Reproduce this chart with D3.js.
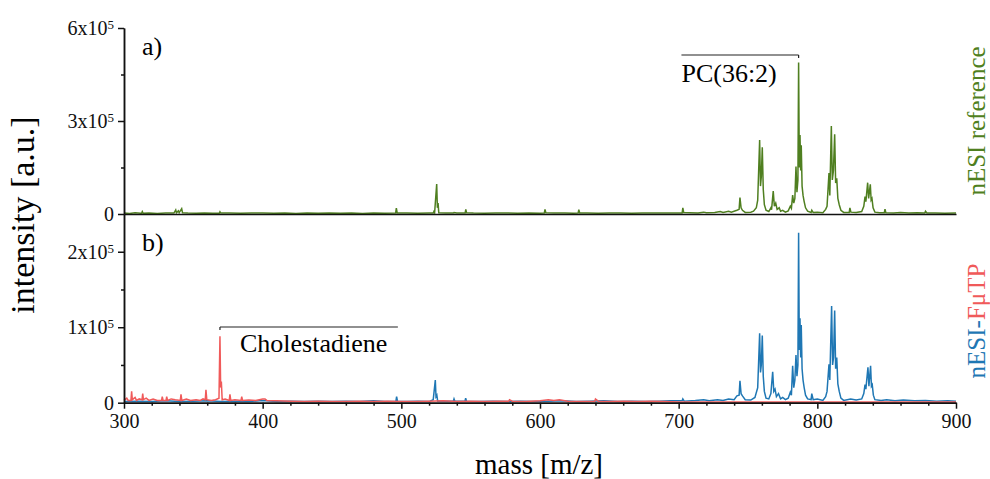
<!DOCTYPE html>
<html>
<head>
<meta charset="utf-8">
<script src="https://cdn.jsdelivr.net/npm/d3@7"></script>
<style>
  body { margin: 0; background: #fff; }
  text { font-family: "Liberation Serif", "DejaVu Serif", serif; }
</style>
</head>
<body>
<div id="chart"></div>
<script>
// spectra: [m/z, intensity]
var refSpectrum = [
  [300,3000],[304,2000],[308,4000],[312,2500],[312.7,2500],[313.2,8000],[313.8,2500],[318,3000],[324,2000],[330,3500],[336,3000],
  [337.3,13000],[337.8,4000],[339.2,10000],[339.8,4000],[341.6,17000],[342.2,4000],[346,3000],[352,2500],[358,3500],[364,2500],
  [368.7,2500],[369.2,7000],[369.8,3000],[376,3000],[384,2500],[392,3500],[400,3000],[408,2500],[416,3000],[424,2000],[432,3000],
  [440,2500],[448,3000],[456,2500],[464,3000],[472,2000],[480,3000],[488,2500],[495.9,3000],[496.4,19000],[497,3500],[504,3000],
  [512,2500],[520,3500],[523,3000],[523.5,8000],[524,4000],[525.5,97000],[526,20000],[526.5,35000],[527,4000],[532,3000],[537.5,3000],[538,5000],
  [540,3000],[546,3000],[546.5,15000],[547,4000],[552,3000],[560,2500],[568,3500],[576,3000],[584,2500],[592,3000],[600,2500],
  [603.1,3000],[603.6,15000],[604.2,4000],[610,3500],[618,3000],[624,2500],[627.5,3000],[628,14000],[628.6,3500],[634,3000],[642,2500],[650,3000],
  [658,3500],[666,2500],[674,3000],[682,3000],[690,3500],[698,3000],[702.5,3000],[703,20000],[703.6,5000],[708,4000],[714,3000],
  [718,6000],[720,4000],[726,5000],[730,8000],[732,5000],[736,9000],[738,6000],[742,12000],[743.6,15000],[744.2,53000],[745,20000],
  [746,12000],[748,5000],[752,6000],[754,9000],[756,20000],[757,45000],[758.4,239000],[759,90000],[759.6,120000],[760.3,215000],
  [761,80000],[761.8,30000],[763,12000],[765,8000],[766.5,20000],[767,14000],[768.2,74000],[769,25000],[770,35000],[771,15000],
  [772.5,20000],[773.5,9000],[775,12000],[777,6000],[779,10000],[780.5,25000],[781.3,18000],[782.2,61000],[783,35000],[783.8,50000],
  [784.6,153000],[785.3,70000],[786,110000],[786.5,489000],[787,150000],[787.5,255000],[788,140000],[788.4,222000],[789,90000],[789.7,60000],
  [790.5,40000],[791.5,20000],[793,9000],[795.5,5000],[796,12000],[797,5000],[800,6000],[804,4000],[806,15000],[807,25000],[808.4,132000],
  [809,60000],[810.1,284000],[810.8,110000],[811.6,140000],[812.5,257000],[813.2,100000],[814,115000],[814.8,50000],[815.8,30000],[817,12000],
  [819,5000],[823,5000],[823.5,20000],[824.2,6000],[828,5000],[832,8000],[833.5,25000],[834.4,56000],[835,40000],[836.3,101000],[837,50000],
  [838.2,96000],[838.8,45000],[839.4,50000],[840.2,20000],[841.5,6000],[845,4000],[848.3,4000],[848.8,16000],[849.4,4000],[855,3000],[860,5000],
  [866,3000],[872,4000],[877.5,3000],[878,9000],[879,3000],[885,3000],[892,2500],[900,3000]
];

var fmtpBlue = [
  [300,1500],[310,2000],[320,1500],[330,2500],[340,1500],[350,2000],[360,2500],[370,1500],[380,2000],[390,1500],
  [400,3000],[410,1500],[420,2000],[430,1500],[440,2000],[450,1500],[460,2000],[470,1500],[480,2500],[488,1500],
  [496.1,2000],[496.6,8000],[497.2,2000],[504,1500],[512,2000],[520,1500],[523,4000],[524.5,30000],[525,8000],[525.6,10000],[526.2,2000],
  [532,2000],[537.5,2000],[538,5000],[538.6,2000],[545.9,2000],[546.4,6000],[547,2000],[556,1500],[566,2000],[576,1500],[586,2000],[596,1500],
  [606,2000],[616,2500],[626,1500],[636,2000],[646,2500],[656,1500],[666,2000],[676,1500],[686,2000],[694,2500],
  [702.5,2500],[703,5000],[704,2000],[712,3000],[718,4000],[722,2500],[728,4000],[732,3000],[736,5000],[740,4000],[742,9000],
  [743.6,10000],[744.2,29000],[745,12000],[746,9000],[748,4000],[752,3500],[755,7000],[757,20000],[758.4,92000],[759,40000],[759.6,50000],
  [760.3,89000],[761,35000],[761.8,15000],[763,6000],[765,5000],[766.5,12000],[767.8,41000],[768.6,15000],[769.5,18000],[770.5,8000],
  [772,12000],[773.5,5000],[775,7000],[777,4000],[779,6000],[780.5,14000],[781.3,10000],[782.2,49000],[783,20000],[783.8,30000],
  [784.6,63000],[785.3,35000],[786,50000],[786.5,225000],[787,70000],[787.5,112000],[788,60000],[788.4,103000],[789,45000],[789.7,30000],
  [790.5,20000],[791.5,10000],[793,5000],[795.5,4000],[796,12000],[797,4000],[800,5000],[804,3000],[806,8000],[807,15000],[808.4,51000],
  [809,30000],[810.3,128000],[811,50000],[811.7,60000],[812.5,122000],[813.2,45000],[814,60000],[814.8,25000],[815.8,15000],[817,6000],
  [819,3000],[824,5000],[828,3500],[832,5000],[833.5,12000],[834.4,24000],[835,18000],[836.5,47000],[837.2,22000],[838.4,49000],
  [839,22000],[839.6,24000],[840.4,10000],[841.5,4000],[846,3000],[850,4000],[856,2500],[862,3500],[870,2500],[878,3000],
  [886,2000],[894,2500],[900,2000]
];

var fmtpRed = [
  [300,3000],[302,6000],[303,3000],[305,3000],[305.5,15000],[306,4000],[308,7000],[309,3000],[311,5000],[313,4000],[313.5,12000],[314,4000],
  [316,6000],[318,3000],[321,5000],[324,3000],[327.1,3000],[327.6,8000],[328.2,3000],[330.3,3000],[330.8,8000],[331.4,3000],[334,5000],[337,4000],
  [340.6,3000],[341.1,11000],[341.7,3000],[345,5000],[348,3000],[352,4000],[355,3000],[357,5000],[358.6,4000],[359.1,17000],[359.7,4000],[363,3000],
  [366,4000],[368.5,6000],[369.2,88000],[369.7,20000],[370.2,28000],[370.8,4000],[373,5000],[375.9,3000],[376.4,11000],[377,3000],[380,4000],
  [384.4,3000],[384.9,8000],[385.5,3000],[390,3500],[395,3000],[400,5000],[401.7,5000],[403,3000],[410,2500],[420,2000],[430,1500],
  [440,2000],[450,1500],[460,1500],[470,2000],[480,1500],[490,2000],[500,1500],[510,1500],[520,2000],[530,2500],
  [540,1500],[550,2000],[560,1500],[570,2000],[577.5,2000],[578,4000],[580,2000],[590,1500],[600,2500],[606,4000],[610,3000],
  [614,4000],[620,2000],[630,1500],[639.5,2000],[640,5000],[642,2000],[650,1500],[660,2000],[670,1500],[680,2000],[690,1500],
  [700,1000],[720,800],[740,1000],[760,800],[780,1000],[800,800],[820,1000],[840,800],[860,1000],[880,800],[900,800]
];

var xMajor = [300, 400, 500, 600, 700, 800, 900];
var xMinor = [320, 340, 360, 380, 420, 440, 460, 480, 520, 540, 560, 580, 620, 640, 660, 680, 720, 740, 760, 780, 820, 840, 860, 880];
var topMajor = [0, 300000, 600000];
var topMinor = [150000, 450000];
var botMajor = [0, 100000, 200000];
var botMinor = [50000, 150000];

var W = 990, H = 479;
var left = 124, right = 956;
var topY0 = 28, midY = 214, botY = 402.7;

var svg = d3.select("#chart").append("svg")
    .attr("width", W)
    .attr("height", H);

var x = d3.scaleLinear().domain([300, 900]).range([left, right]);
var yTop = d3.scaleLinear().domain([0, 600000]).range([midY, topY0]);
var yBot = d3.scaleLinear().domain([0, 250000]).range([botY, midY]);

var green = "#4f7f20", blue = "#1f77b4", red = "#f05a5a";

function sciLabel(g) {
  g.selectAll(".tick text").each(function(d) {
    if (d === 0) return;
    var t = d3.select(this).text(null);
    t.append("tspan").text(d / 1e5 + "x10");
    t.append("tspan").attr("dy", "-0.45em").attr("font-size", 13).text("5");
  });
}

function styleAxis(g) {
  g.selectAll("text").attr("font-size", 20).attr("fill", "#111")
    .attr("font-family", "'Liberation Serif', serif");
  g.selectAll("path, line").attr("stroke", "#111").attr("stroke-width", 1.5);
}

// spectra lines
var lineTop = d3.line().x(d => x(d[0])).y(d => yTop(d[1]));
var lineBot = d3.line().x(d => x(d[0])).y(d => yBot(d[1]));

svg.append("path").datum(refSpectrum)
  .attr("d", lineTop).attr("fill", "none").attr("stroke", green).attr("stroke-width", 1.5);
svg.append("path").datum(fmtpBlue)
  .attr("d", lineBot).attr("fill", "none").attr("stroke", blue).attr("stroke-width", 1.5);
svg.append("path").datum(fmtpRed)
  .attr("d", lineBot).attr("fill", "none").attr("stroke", red).attr("stroke-width", 1.5);

// top panel axes
svg.append("g").attr("transform", "translate(" + left + ",0)")
  .call(d3.axisLeft(yTop).tickValues(topMajor).tickSize(6).tickPadding(4).tickSizeOuter(0))
  .call(sciLabel).call(styleAxis);
svg.append("g").attr("transform", "translate(" + left + ",0)")
  .call(d3.axisLeft(yTop).tickValues(topMinor).tickSize(3).tickFormat("").tickSizeOuter(0))
  .call(styleAxis);
svg.append("g").attr("transform", "translate(0," + midY + ")")
  .call(d3.axisBottom(x).tickValues([]).tickSizeOuter(0))
  .call(styleAxis);

// bottom panel axes
svg.append("g").attr("transform", "translate(" + left + ",0)")
  .call(d3.axisLeft(yBot).tickValues(botMajor).tickSize(6).tickPadding(4).tickSizeOuter(0))
  .call(sciLabel).call(styleAxis);
svg.append("g").attr("transform", "translate(" + left + ",0)")
  .call(d3.axisLeft(yBot).tickValues(botMinor).tickSize(3).tickFormat("").tickSizeOuter(0))
  .call(styleAxis);
svg.append("g").attr("transform", "translate(0," + botY + ")")
  .call(d3.axisBottom(x).tickValues(xMajor).tickSize(6).tickPadding(5).tickSizeOuter(0))
  .call(styleAxis);
svg.append("g").attr("transform", "translate(0," + botY + ")")
  .call(d3.axisBottom(x).tickValues(xMinor).tickSize(3).tickFormat("").tickSizeOuter(0))
  .call(styleAxis);

// axis titles
svg.append("text")
  .attr("transform", "translate(34," + 215 + ") rotate(-90)")
  .attr("text-anchor", "middle")
  .attr("font-size", 34)
  .text("intensity [a.u.]");

svg.append("text")
  .attr("x", 539).attr("y", 474)
  .attr("text-anchor", "middle")
  .attr("font-size", 29)
  .text("mass [m/z]");

// right-hand series labels
svg.append("text")
  .attr("transform", "translate(985,121) rotate(-90)")
  .attr("text-anchor", "middle")
  .attr("font-size", 25)
  .attr("fill", green)
  .text("nESI reference");

var lab = svg.append("text")
  .attr("transform", "translate(985,321) rotate(-90)")
  .attr("text-anchor", "middle")
  .attr("font-size", 25);
lab.append("tspan").attr("fill", blue).text("nESI-");
lab.append("tspan").attr("fill", red).text("F\u03bcTP");

// panel letters
svg.append("text").attr("x", 142).attr("y", 55).attr("font-size", 26).text("a)");
svg.append("text").attr("x", 142).attr("y", 251).attr("font-size", 26).text("b)");

// annotations
svg.append("line").attr("x1", x(702)).attr("x2", x(786.5)).attr("y1", 55).attr("y2", 55)
  .attr("stroke", "#222").attr("stroke-width", 1.2);
svg.append("line").attr("x1", x(786.5)).attr("x2", x(786.5)).attr("y1", 55).attr("y2", 58)
  .attr("stroke", "#222").attr("stroke-width", 1.2);
svg.append("text").attr("x", x(702)).attr("y", 82).attr("font-size", 26).text("PC(36:2)");

svg.append("line").attr("x1", x(369.2)).attr("x2", x(497.5)).attr("y1", 327).attr("y2", 327)
  .attr("stroke", "#222").attr("stroke-width", 1.2);
svg.append("line").attr("x1", x(369.2)).attr("x2", x(369.2)).attr("y1", 327).attr("y2", 330)
  .attr("stroke", "#222").attr("stroke-width", 1.2);
svg.append("text").attr("x", 240).attr("y", 352).attr("font-size", 26).text("Cholestadiene");
</script>
</body>
</html>
